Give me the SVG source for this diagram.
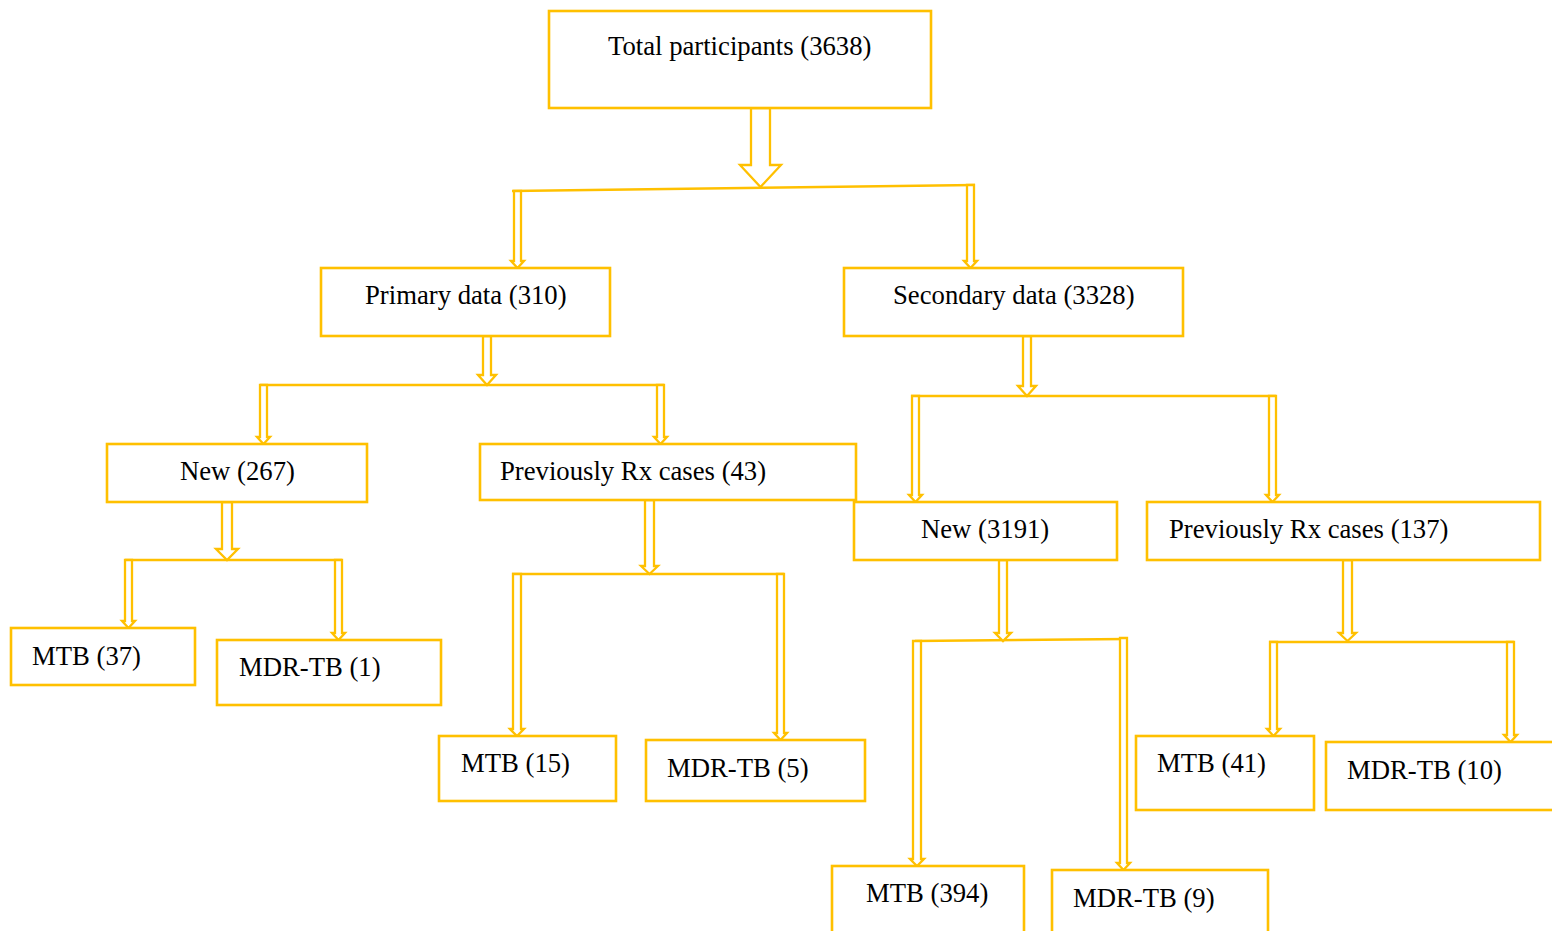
<svg xmlns="http://www.w3.org/2000/svg" width="1552" height="931" viewBox="0 0 1552 931">
<style>
.box{fill:#fff;stroke:#FFC000;stroke-width:2.6}
.ln{fill:none;stroke:#FFC000;stroke-width:2.6}
.ar{fill:#fff;stroke:#FFC000;stroke-width:2.3;stroke-linejoin:miter}
text{font-family:"Liberation Serif","Times New Roman",serif;font-size:26.7px;fill:#000}
</style>
<rect width="1552" height="931" fill="#fff"/>
<g id="connectors">
<!-- top -->
<path class="ln" d="M512 191 L975 185"/>
<polygon class="ar" points="751,108 770,108 770,165 781,165 760.5,187 740,165 751,165"/>
<polygon class="ar" points="514,191 521,191 521,261 524,261 517.5,268 511,261 514,261"/>
<polygon class="ar" points="967,185 974,185 974,261 977,261 970.5,268 964,261 967,261"/>
<!-- primary -->
<path class="ln" d="M260 385 L664 385"/>
<polygon class="ar" points="483,336 491,336 491,375 496,375 487,385 478,375 483,375"/>
<polygon class="ar" points="260,385 267,385 267,437 270,437 263.5,444 257,437 260,437"/>
<polygon class="ar" points="657,385 664,385 664,437 667,437 660.5,444 654,437 657,437"/>
<!-- secondary -->
<path class="ln" d="M911 396 L1276 396"/>
<polygon class="ar" points="1023,336 1031,336 1031,386 1036,386 1027,396 1018,386 1023,386"/>
<polygon class="ar" points="912,396 919,396 919,495 922,495 915.5,502 909,495 912,495"/>
<polygon class="ar" points="1269,396 1276,396 1276,495 1279,495 1272.5,502 1266,495 1269,495"/>
<!-- new 267 -->
<path class="ln" d="M125 560 L342 560"/>
<polygon class="ar" points="222,502 232,502 232,549 238,549 227,560 216,549 222,549"/>
<polygon class="ar" points="125,560 132,560 132,621 135,621 128.5,628 122,621 125,621"/>
<polygon class="ar" points="335,560 342,560 342,633 345,633 338.5,640 332,633 335,633"/>
<!-- prev rx 43 -->
<path class="ln" d="M512 574 L784 574"/>
<polygon class="ar" points="645,500 654,500 654,566 658,566 649.5,574 641,566 645,566"/>
<polygon class="ar" points="513,574 521,574 521,729 524,729 517,736 510,729 513,729"/>
<polygon class="ar" points="777,574 784,574 784,733 787,733 780.5,740 774,733 777,733"/>
<!-- new 3191 -->
<path class="ln" d="M915 641 L1127 639"/>
<polygon class="ar" points="999,560 1007,560 1007,633 1011,633 1003,641 995,633 999,633"/>
<polygon class="ar" points="913,641 921,641 921,859 924,859 917,866 910,859 913,859"/>
<polygon class="ar" points="1120,638 1127,638 1127,863 1130,863 1123.5,870 1117,863 1120,863"/>
<!-- prev rx 137 -->
<path class="ln" d="M1269 642 L1514 642"/>
<polygon class="ar" points="1343,560 1352,560 1352,633 1356,633 1347.5,641 1339,633 1343,633"/>
<polygon class="ar" points="1270,642 1277,642 1277,729 1280,729 1273.5,736 1267,729 1270,729"/>
<polygon class="ar" points="1507,642 1514,642 1514,735 1517,735 1510.5,742 1504,735 1507,735"/>
</g>
<g id="n-total"><rect class="box" x="549" y="11" width="382" height="97"/><text x="608" y="55">Total participants (3638)</text></g>
<g id="n-primary"><rect class="box" x="321" y="268" width="289" height="68"/><text x="365" y="304">Primary data (310)</text></g>
<g id="n-secondary"><rect class="box" x="844" y="268" width="339" height="68"/><text x="893" y="304">Secondary data (3328)</text></g>
<g id="n-new267"><rect class="box" x="107" y="444" width="260" height="58"/><text x="180" y="480">New (267)</text></g>
<g id="n-prev43"><rect class="box" x="480" y="444" width="376" height="56"/><text x="500" y="480">Previously Rx cases (43)</text></g>
<g id="n-new3191"><rect class="box" x="854" y="502" width="263" height="58"/><text x="921" y="538">New (3191)</text></g>
<g id="n-prev137"><rect class="box" x="1147" y="502" width="393" height="58"/><text x="1169" y="538">Previously Rx cases (137)</text></g>
<g id="n-mtb37"><rect class="box" x="11" y="628" width="184" height="57"/><text x="32" y="665">MTB (37)</text></g>
<g id="n-mdr1"><rect class="box" x="217" y="640" width="224" height="65"/><text x="239" y="676">MDR-TB (1)</text></g>
<g id="n-mtb15"><rect class="box" x="439" y="736" width="177" height="65"/><text x="461" y="772">MTB (15)</text></g>
<g id="n-mdr5"><rect class="box" x="646" y="740" width="219" height="61"/><text x="667" y="777">MDR-TB (5)</text></g>
<g id="n-mtb41"><rect class="box" x="1136" y="736" width="178" height="74"/><text x="1157" y="772">MTB (41)</text></g>
<g id="n-mdr10"><rect class="box" x="1326" y="742" width="240" height="68"/><text x="1347" y="779">MDR-TB (10)</text></g>
<g id="n-mtb394"><rect class="box" x="832" y="866" width="192" height="80"/><text x="866" y="902">MTB (394)</text></g>
<g id="n-mdr9"><rect class="box" x="1052" y="870" width="216" height="80"/><text x="1073" y="907">MDR-TB (9)</text></g>
</svg>
